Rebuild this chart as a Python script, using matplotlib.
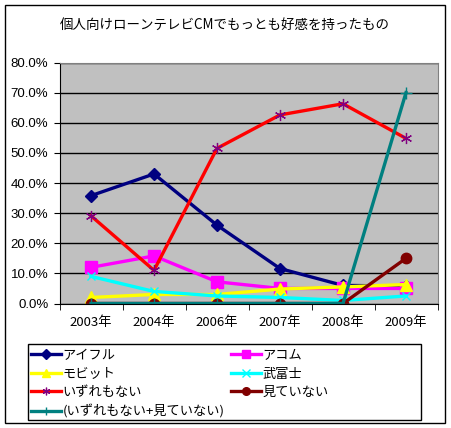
import numpy as np
import matplotlib
matplotlib.use("Agg")
import matplotlib.pyplot as plt

plt.rcParams['font.family'] = ['Noto Sans CJK JP', 'DejaVu Sans']

# --- データ ---
years = ['2003年', '2004年', '2006年', '2007年', '2008年', '2009年']
aiful = [35.8, 43.0, 26.0, 11.6, 6.0, 5.8]
acom = [12.0, 15.8, 7.2, 5.0, 5.0, 5.0]
mobit = [2.0, 3.0, 3.0, 4.8, 5.5, 6.3]
takefuji = [9.0, 4.0, 2.5, 2.0, 1.0, 2.5]
none_of = [29.1, 11.0, 51.5, 62.6, 66.3, 54.8]
not_seen = [0.0, 0.0, 0.0, 0.0, 0.0, 15.0]
combined = [0.0, 0.0, 0.0, 0.0, 0.0, 70.0]

series = [
    ('アイフル', aiful, dict(color='#000080', marker='D', ms=6.5, mfc='#000080', mec='#000080')),
    ('アコム', acom, dict(color='#FF00FF', marker='s', ms=8, mfc='#FF00FF', mec='#FF00FF')),
    ('モビット', mobit, dict(color='#FFFF00', marker='^', ms=8, mfc='#FFFF00', mec='#FFFF00')),
    ('武富士', takefuji, dict(color='#00FFFF', marker='x', ms=6, mec='#00FFFF', mew=1.0)),
    ('いずれもない', none_of, dict(color='#FF0000', marker=(6, 2, 0), ms=8, mec='#800080', mew=0.9)),
    ('見ていない', not_seen, dict(color='#800000', marker='o', ms=7.5, mfc='#800000', mec='#800000')),
    ('(いずれもない+見ていない)', combined, dict(color='#008080', marker='+', ms=8, mec='#008080', mew=1.0)),
]

fig = plt.figure(figsize=(4.51, 4.28), dpi=100)
fig.patch.set_facecolor('white')
# 外枠
fig.add_artist(plt.Rectangle((5 / 451, 5 / 428), 440 / 451, 418 / 428, transform=fig.transFigure,
                             fill=False, edgecolor='black', linewidth=1.0))

ax = fig.add_axes([59.5 / 451, 1 - 303.5 / 428, 378 / 451, 241 / 428])
ax.set_facecolor('#C0C0C0')

x = np.arange(len(years))
lines = []
for name, vals, style in series:
    ln, = ax.plot(x, vals, linewidth=2.4, label=name, **style)
    lines.append(ln)

ax.set_xlim(-0.5, len(years) - 0.5)
ax.set_ylim(0, 80)
ax.set_yticks(np.arange(0, 81, 10))
ax.set_yticklabels([f'{v:.1f}%' for v in np.arange(0, 81, 10)],
                   fontsize=9.5, family=['Liberation Sans', 'DejaVu Sans'])
ax.set_xticks(x)
ax.set_xticklabels(years, fontsize=9.5)
ax.set_xticks(np.arange(-0.5, len(years)), minor=True)
ax.tick_params(axis='x', which='major', length=0, pad=9)
ax.tick_params(axis='x', which='minor', length=4, direction='out', color='black')
ax.tick_params(axis='y', length=4, direction='out', pad=4)
ax.yaxis.grid(True, color='black', linewidth=1.0)
ax.set_axisbelow(True)
for side in ['top', 'right']:
    ax.spines[side].set_color('#808080')
for side in ['left', 'bottom']:
    ax.spines[side].set_color('black')

fig.text(225 / 451, 1 - 25 / 428, '個人向けローンテレビCMでもっとも好感を持ったもの',
         ha='center', va='center', fontsize=9.7)

# 凡例の枠
fig.add_artist(plt.Rectangle((28 / 451, 1 - 420 / 428), 393 / 451, 76 / 428, transform=fig.transFigure,
                             fill=False, edgecolor='black', linewidth=1.0))

# 凡例は行方向に並ぶので列順に並べ替える
order = [0, 2, 4, 6, 1, 3, 5]
leg = fig.legend(handles=[lines[i] for i in order], ncol=2, loc='upper left',
                 bbox_to_anchor=(31 / 451, 1 - 349 / 428),
                 fontsize=9.5, frameon=False,
                 handlelength=2.3, handletextpad=0.1, borderpad=0,
                 labelspacing=0.42, columnspacing=0.45, borderaxespad=0)
for h in leg.legend_handles:
    h.set_markersize(5.5)

fig.savefig('out.png', dpi=100)
